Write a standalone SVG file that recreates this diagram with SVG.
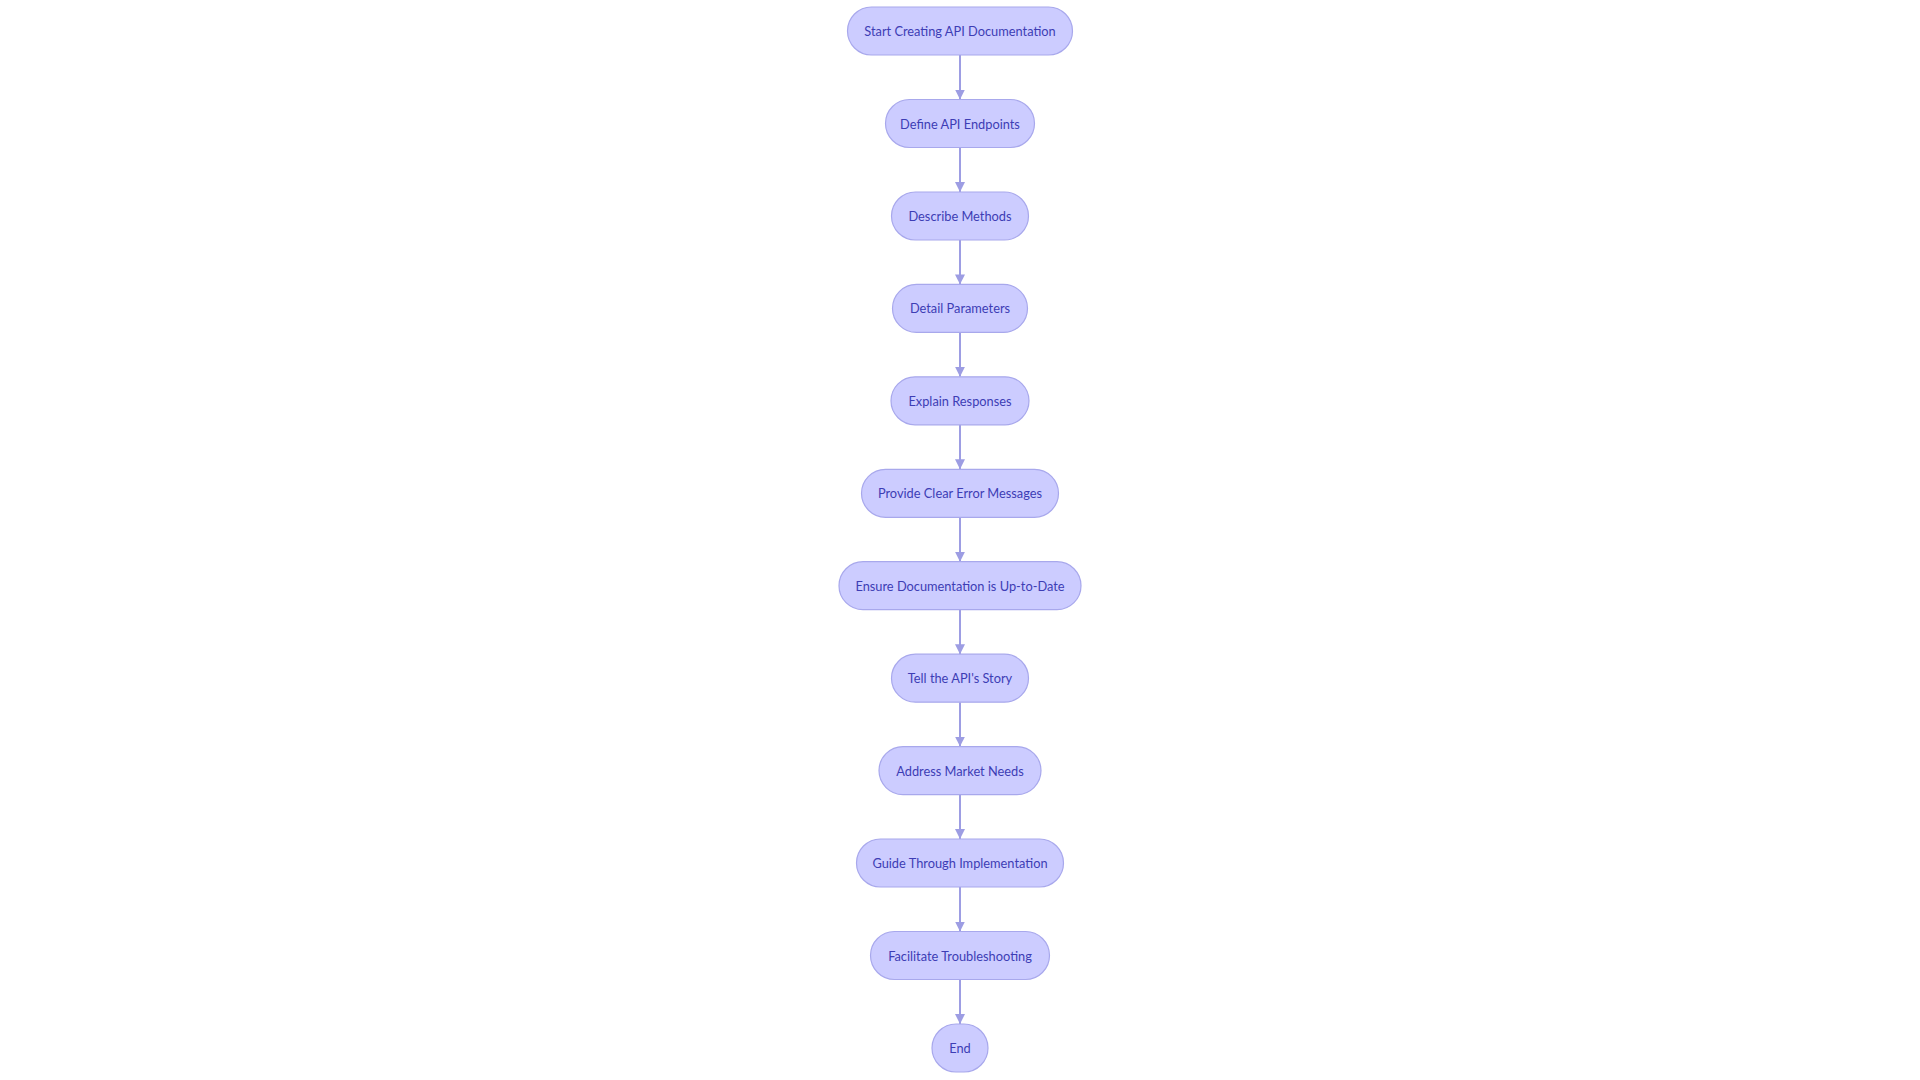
<svg xmlns="http://www.w3.org/2000/svg" width="1920" height="1080" viewBox="0 0 1920 1080">
<defs>
<style>
.node rect{fill:#ccccff;stroke:#a8a8ec;stroke-width:1.2}
.node text{font-family:Lato,"Liberation Sans",sans-serif;font-size:12.8px;fill:#3d3db5;text-anchor:middle;dominant-baseline:central}
.edge{stroke:#9d9de3;stroke-width:2;fill:none;marker-end:url(#arrow)}
</style>
<marker id="arrow" viewBox="0 0 10 10" refX="10" refY="5" markerWidth="10" markerHeight="10" markerUnits="userSpaceOnUse" orient="auto">
<path d="M0,0 L10,5 L0,10 z" fill="#9d9de3"/>
</marker>
</defs>
<rect width="1920" height="1080" fill="#ffffff"/>
<g id="connectors">
<line class="edge" x1="960" y1="55" x2="960" y2="99.5"/>
<line class="edge" x1="960" y1="147.5" x2="960" y2="192"/>
<line class="edge" x1="960" y1="240" x2="960" y2="284.4"/>
<line class="edge" x1="960" y1="332.4" x2="960" y2="376.8"/>
<line class="edge" x1="960" y1="424.8" x2="960" y2="469.3"/>
<line class="edge" x1="960" y1="517.3" x2="960" y2="561.7"/>
<line class="edge" x1="960" y1="609.7" x2="960" y2="654.2"/>
<line class="edge" x1="960" y1="702.2" x2="960" y2="746.6"/>
<line class="edge" x1="960" y1="794.6" x2="960" y2="839"/>
<line class="edge" x1="960" y1="887" x2="960" y2="931.5"/>
<line class="edge" x1="960" y1="979.5" x2="960" y2="1024"/>
</g>
<g id="n1" class="node"><rect x="847.5" y="7" width="225" height="48" rx="24"/><text x="960" y="31">Start Creating API Documentation</text></g>
<g id="n2" class="node"><rect x="885.5" y="99.5" width="149" height="48" rx="24"/><text x="960" y="123.5">Define API Endpoints</text></g>
<g id="n3" class="node"><rect x="891.5" y="192" width="137" height="48" rx="24"/><text x="960" y="216">Describe Methods</text></g>
<g id="n4" class="node"><rect x="892.5" y="284.4" width="135" height="48" rx="24"/><text x="960" y="308.4">Detail Parameters</text></g>
<g id="n5" class="node"><rect x="891" y="376.8" width="138" height="48" rx="24"/><text x="960" y="400.8">Explain Responses</text></g>
<g id="n6" class="node"><rect x="861.5" y="469.3" width="197" height="48" rx="24"/><text x="960" y="493.3">Provide Clear Error Messages</text></g>
<g id="n7" class="node"><rect x="839" y="561.7" width="242" height="48" rx="24"/><text x="960" y="585.7">Ensure Documentation is Up-to-Date</text></g>
<g id="n8" class="node"><rect x="891.5" y="654.2" width="137" height="48" rx="24"/><text x="960" y="678.2">Tell the API's Story</text></g>
<g id="n9" class="node"><rect x="879" y="746.6" width="162" height="48" rx="24"/><text x="960" y="770.6">Address Market Needs</text></g>
<g id="n10" class="node"><rect x="856.5" y="839" width="207" height="48" rx="24"/><text x="960" y="863">Guide Through Implementation</text></g>
<g id="n11" class="node"><rect x="870.5" y="931.5" width="179" height="48" rx="24"/><text x="960" y="955.5">Facilitate Troubleshooting</text></g>
<g id="n12" class="node"><rect x="932" y="1024" width="56" height="48" rx="24"/><text x="960" y="1048">End</text></g>
</svg>
